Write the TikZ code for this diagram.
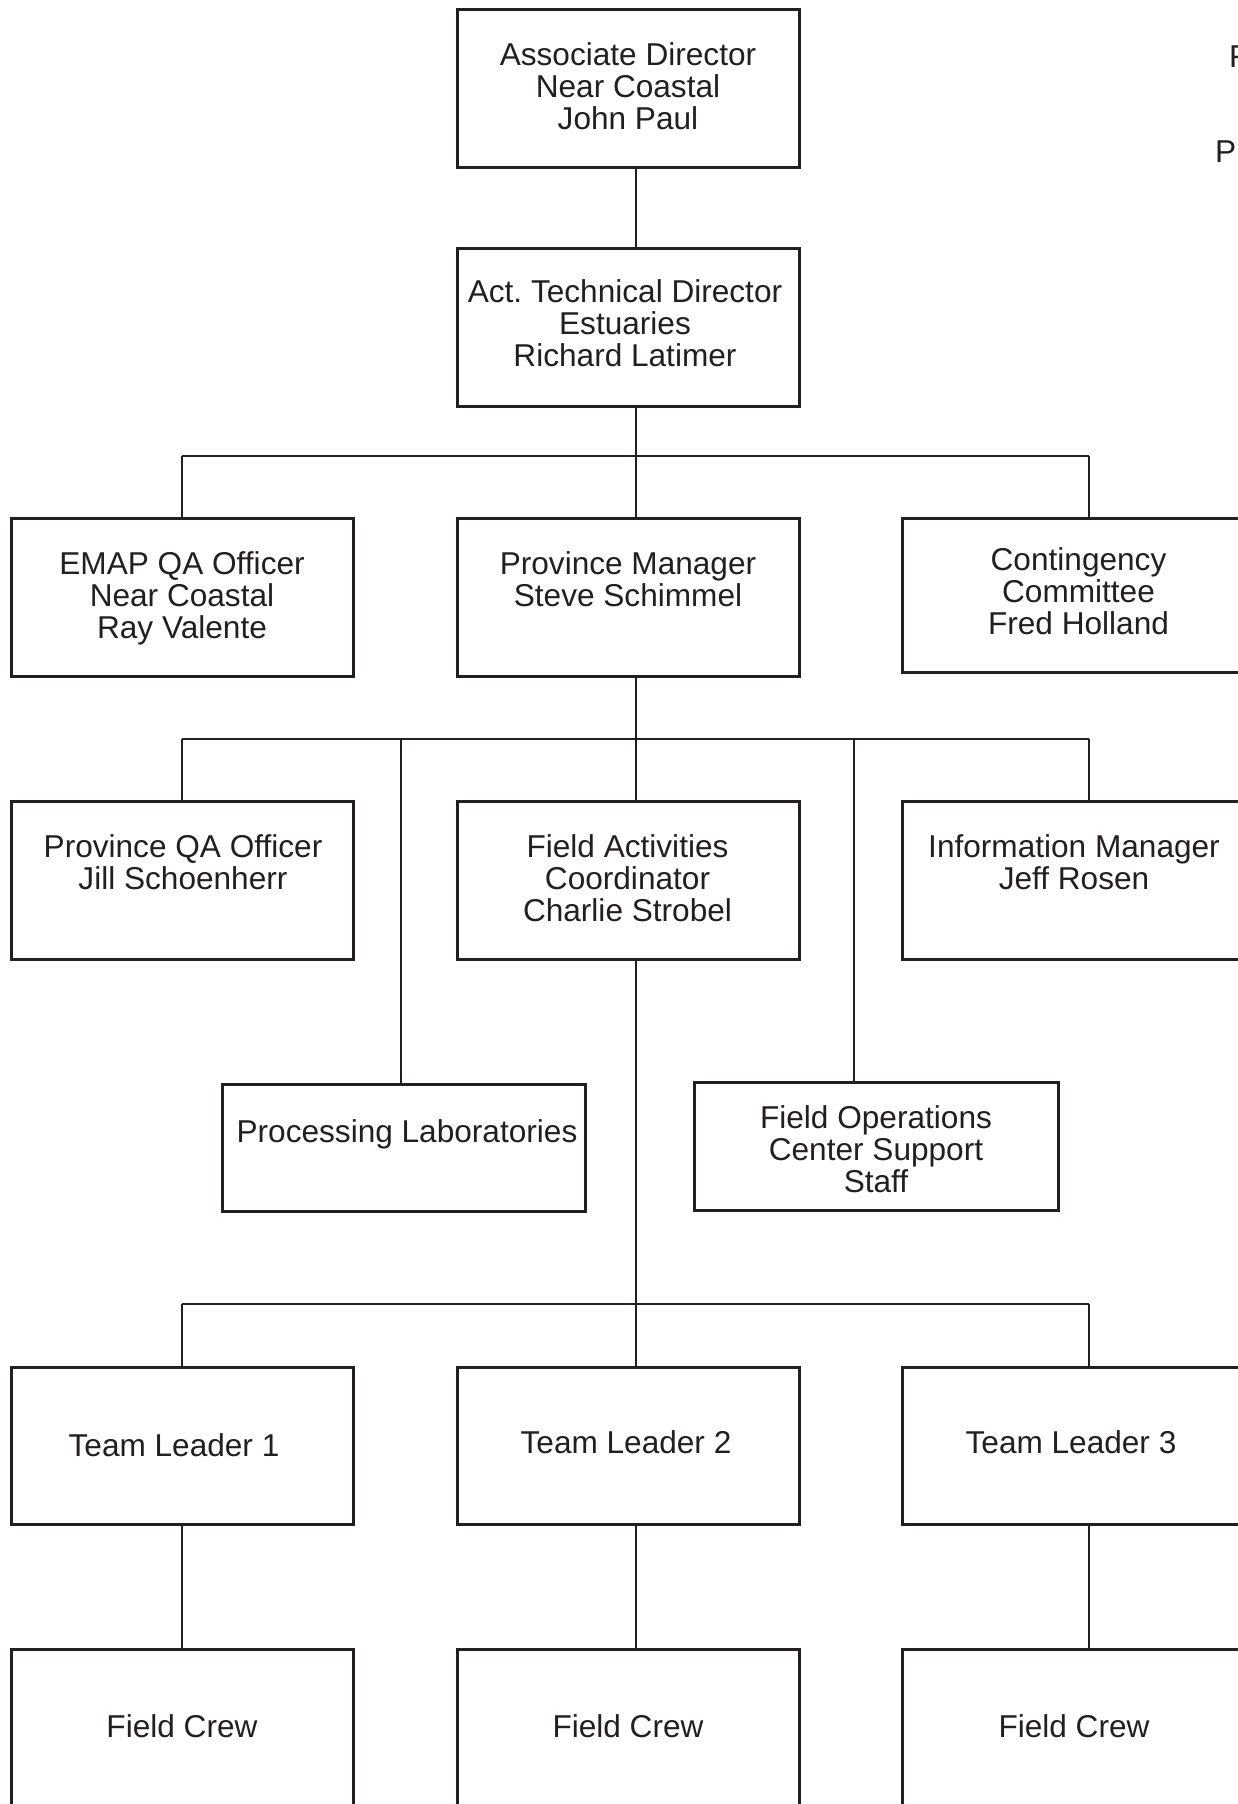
\documentclass[tikz,border=0pt]{standalone}
\usepackage{fontspec}
\setmainfont{Liberation Sans}
\definecolor{ink}{HTML}{231F20}
\begin{document}
\frenchspacing
\begin{tikzpicture}[x=1pt,y=-1pt,
  box/.style={draw=ink,line width=3pt,rectangle,inner sep=0pt,minimum width=342pt,minimum height=158pt},
  lbl/.style={anchor=base,align=center,inner sep=0pt,text=ink,font=\fontsize{31.6}{32}\selectfont},
  wire/.style={draw=ink,line width=2.6pt}]
\useasboundingbox[fill=white] (0,0) rectangle (1238,1804);
% columns and buses
\coordinate (xL) at (182,0);
\coordinate (xM) at (636,0);
\coordinate (xR) at (1089,0);
\coordinate (xP) at (401,0);
\coordinate (xO) at (854,0);
\coordinate (bus1) at (0,456);
\coordinate (bus2) at (0,739);
\coordinate (bus3) at (0,1304);
% boxes
\node[box] (top) at (628,88) {};
\node[box] (act) at (628,327) {};
\node[box] (emap) at (182,597) {};
\node[box] (pm) at (628,597) {};
\node[box,minimum width=343pt,minimum height=154pt] (cont) at (1073.5,595) {};
\node[box] (pqa) at (182,880) {};
\node[box] (fac) at (628,880) {};
\node[box,minimum width=343pt] (im) at (1073.5,880) {};
\node[box,minimum width=363pt,minimum height=127pt] (plab) at (403.5,1147.5) {};
\node[box,minimum width=364pt,minimum height=128pt] (fops) at (876,1146) {};
\node[box,minimum height=157pt] (tl1) at (182,1445.5) {};
\node[box,minimum height=157pt] (tl2) at (628,1445.5) {};
\node[box,minimum width=343pt,minimum height=157pt] (tl3) at (1073.5,1445.5) {};
\node[box] (fc1) at (182,1728) {};
\node[box] (fc2) at (628,1728) {};
\node[box,minimum width=343pt] (fc3) at (1073.5,1728) {};
% texts (anchor = baseline of last line)
\node[lbl] (ttop) at (628,129) {Associate Director\\Near Coastal\\John Paul};
\node[lbl] (tact) at (625,366) {Act. Technical Director\\Estuaries\\Richard Latimer};
\node[lbl] (temap) at (182,638) {EMAP QA Officer\\Near Coastal\\Ray Valente};
\node[lbl] (tpm) at (628,606) {Province Manager\\Steve Schimmel};
\node[lbl] (tcont) at (1078.5,634) {Contingency\\Committee\\Fred Holland};
\node[lbl] (tpqa) at (183,889) {Province QA Officer\\Jill Schoenherr};
\node[lbl] (tfac) at (627.5,921) {Field Activities\\Coordinator\\Charlie Strobel};
\node[lbl] (tim) at (1074,889) {Information Manager\\Jeff Rosen};
\node[lbl] (tplab) at (407,1142) {Processing Laboratories};
\node[lbl] (tfops) at (876,1192) {Field Operations\\Center Support\\Staff};
\node[lbl] (ttl1) at (174,1456) {Team Leader 1};
\node[lbl] (ttl2) at (626,1453) {Team Leader 2};
\node[lbl] (ttl3) at (1071,1453) {Team Leader 3};
\node[lbl] (tfc1) at (182,1737) {Field Crew};
\node[lbl] (tfc2) at (628,1737) {Field Crew};
\node[lbl] (tfc3) at (1074,1737) {Field Crew};
\node[lbl,anchor=base west] (tf) at (1229,67) {F};
\node[lbl,anchor=base west] (tp) at (1215,162) {P};
% connectors
\draw[wire] (xM |- top.south) -- (xM |- act.north);
\draw[wire] (xM |- act.south) -- (xM |- bus1);
\draw[wire] (xL |- bus1) -- (xR |- bus1);
\draw[wire] (xL |- bus1) -- (xL |- emap.north);
\draw[wire] (xM |- bus1) -- (xM |- pm.north);
\draw[wire] (xR |- bus1) -- (xR |- cont.north);
\draw[wire] (xM |- pm.south) -- (xM |- bus2);
\draw[wire] (xL |- bus2) -- (xR |- bus2);
\draw[wire] (xL |- bus2) -- (xL |- pqa.north);
\draw[wire] (xP |- bus2) -- (xP |- plab.north);
\draw[wire] (xM |- bus2) -- (xM |- fac.north);
\draw[wire] (xO |- bus2) -- (xO |- fops.north);
\draw[wire] (xR |- bus2) -- (xR |- im.north);
\draw[wire] (xM |- fac.south) -- (xM |- bus3);
\draw[wire] (xL |- bus3) -- (xR |- bus3);
\draw[wire] (xL |- bus3) -- (xL |- tl1.north);
\draw[wire] (xM |- bus3) -- (xM |- tl2.north);
\draw[wire] (xR |- bus3) -- (xR |- tl3.north);
\draw[wire] (xL |- tl1.south) -- (xL |- fc1.north);
\draw[wire] (xM |- tl2.south) -- (xM |- fc2.north);
\draw[wire] (xR |- tl3.south) -- (xR |- fc3.north);
\end{tikzpicture}
\end{document}
